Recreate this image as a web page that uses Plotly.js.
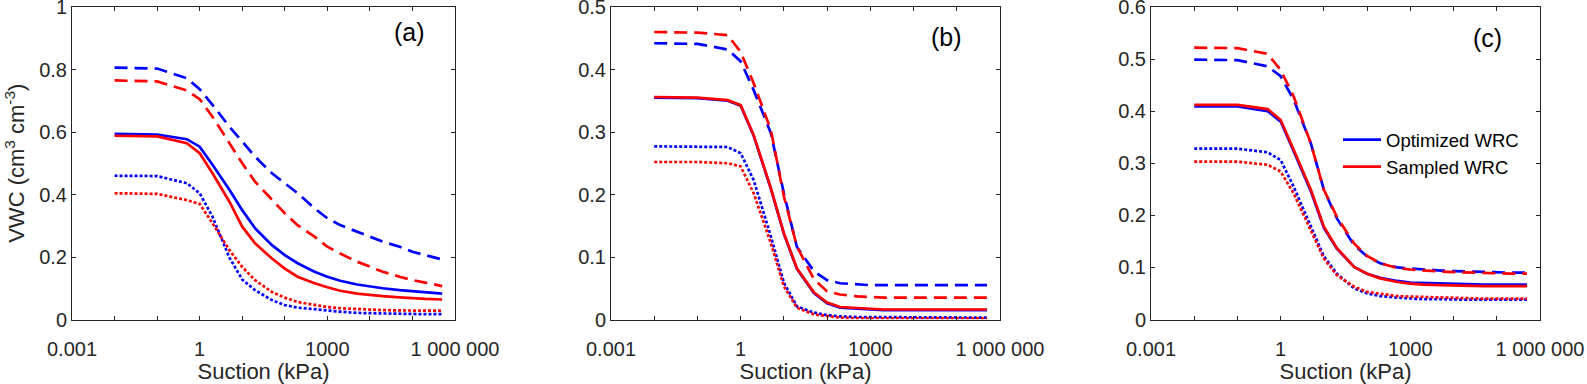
<!DOCTYPE html>
<html>
<head>
<meta charset="utf-8">
<script src="https://cdn.plot.ly/plotly-3.0.1.min.js"></script>
<style>
  html, body { margin: 0; padding: 0; background: #fff; }
  #chart { width: 1587px; height: 384px; }
</style>
</head>
<body>
<div id="chart"></div>
<script>
// suction values (kPa) where the curves are sampled
var suction = [0.01, 0.1, 0.5, 1, 2, 5, 10, 20, 50, 100, 200, 500, 1000, 2000, 5000, 1e4, 2e4, 5e4, 1e5, 2e5, 5e5];

// panel (a)
var optA_dash  = [0.806, 0.803, 0.772, 0.737, 0.687, 0.617, 0.570, 0.521, 0.468, 0.436, 0.404, 0.356, 0.324, 0.302, 0.281, 0.265, 0.249, 0.233, 0.217, 0.206, 0.192];
var optA_solid = [0.594, 0.592, 0.577, 0.553, 0.495, 0.415, 0.350, 0.292, 0.238, 0.206, 0.180, 0.153, 0.137, 0.124, 0.112, 0.105, 0.100, 0.094, 0.091, 0.088, 0.083];
var optA_dot   = [0.460, 0.459, 0.436, 0.404, 0.329, 0.198, 0.128, 0.094, 0.062, 0.046, 0.038, 0.032, 0.028, 0.025, 0.021, 0.020, 0.019, 0.018, 0.018, 0.017, 0.017];
var smpA_dash  = [0.765, 0.762, 0.733, 0.705, 0.649, 0.564, 0.500, 0.441, 0.382, 0.340, 0.302, 0.265, 0.233, 0.211, 0.185, 0.169, 0.153, 0.137, 0.126, 0.118, 0.107];
var smpA_solid = [0.588, 0.586, 0.564, 0.532, 0.468, 0.377, 0.297, 0.244, 0.195, 0.163, 0.137, 0.116, 0.103, 0.092, 0.083, 0.078, 0.075, 0.071, 0.068, 0.066, 0.064];
var smpA_dot   = [0.404, 0.402, 0.382, 0.370, 0.308, 0.222, 0.168, 0.126, 0.088, 0.070, 0.056, 0.046, 0.040, 0.036, 0.033, 0.031, 0.030, 0.029, 0.029, 0.028, 0.028];

// panel (b)
var optB_dash  = [0.442, 0.441, 0.432, 0.413, 0.367, 0.298, 0.202, 0.116, 0.077, 0.063, 0.058, 0.056, 0.055, 0.055, 0.055, 0.055, 0.055, 0.055, 0.055, 0.055, 0.055];
var optB_solid = [0.355, 0.354, 0.350, 0.342, 0.294, 0.209, 0.137, 0.081, 0.042, 0.026, 0.019, 0.017, 0.016, 0.015, 0.015, 0.015, 0.015, 0.015, 0.015, 0.015, 0.015];
var optB_dot   = [0.277, 0.277, 0.276, 0.266, 0.223, 0.133, 0.059, 0.021, 0.011, 0.007, 0.005, 0.004, 0.004, 0.003, 0.003, 0.003, 0.003, 0.003, 0.003, 0.003, 0.003];
var smpB_dash  = [0.460, 0.459, 0.455, 0.428, 0.378, 0.303, 0.197, 0.117, 0.064, 0.045, 0.040, 0.037, 0.036, 0.035, 0.035, 0.035, 0.035, 0.035, 0.035, 0.035, 0.035];
var smpB_solid = [0.356, 0.355, 0.351, 0.343, 0.295, 0.210, 0.138, 0.082, 0.043, 0.027, 0.020, 0.018, 0.017, 0.016, 0.016, 0.016, 0.016, 0.016, 0.016, 0.016, 0.016];
var smpB_dot   = [0.252, 0.252, 0.250, 0.245, 0.202, 0.122, 0.053, 0.019, 0.008, 0.005, 0.003, 0.002, 0.002, 0.002, 0.002, 0.002, 0.002, 0.002, 0.002, 0.002, 0.002];

// panel (c)
var optC_dash  = [0.499, 0.498, 0.486, 0.467, 0.422, 0.338, 0.249, 0.194, 0.143, 0.121, 0.108, 0.100, 0.098, 0.096, 0.094, 0.093, 0.092, 0.091, 0.091, 0.090, 0.090];
var optC_solid = [0.409, 0.409, 0.400, 0.380, 0.323, 0.246, 0.176, 0.136, 0.101, 0.088, 0.080, 0.074, 0.071, 0.070, 0.069, 0.068, 0.068, 0.067, 0.067, 0.067, 0.067];
var optC_dot   = [0.328, 0.328, 0.321, 0.306, 0.255, 0.178, 0.121, 0.088, 0.060, 0.050, 0.045, 0.042, 0.040, 0.039, 0.039, 0.038, 0.038, 0.038, 0.038, 0.038, 0.038];
var smpC_dash  = [0.522, 0.521, 0.510, 0.479, 0.428, 0.338, 0.249, 0.197, 0.146, 0.122, 0.108, 0.099, 0.096, 0.094, 0.092, 0.091, 0.090, 0.089, 0.089, 0.088, 0.088];
var smpC_solid = [0.412, 0.412, 0.404, 0.383, 0.326, 0.249, 0.178, 0.137, 0.101, 0.088, 0.079, 0.072, 0.069, 0.067, 0.066, 0.065, 0.065, 0.064, 0.064, 0.064, 0.064];
var smpC_dot   = [0.303, 0.303, 0.297, 0.284, 0.242, 0.172, 0.117, 0.085, 0.063, 0.053, 0.049, 0.045, 0.044, 0.043, 0.042, 0.041, 0.041, 0.040, 0.040, 0.040, 0.040];

var panelLabels = ['(a)', '(b)', '(c)'];
var yMax = [1, 0.5, 0.6];
var yTicks = [
    [0, 0.2, 0.4, 0.6, 0.8, 1],
    [0, 0.1, 0.2, 0.3, 0.4, 0.5],
    [0, 0.1, 0.2, 0.3, 0.4, 0.5, 0.6]
];
var xTickVals = [0.001, 0.01, 0.1, 1, 10, 100, 1000, 1e4, 1e5, 1e6];
var xTickText = ['0.001', '', '', '1', '', '', '1000', '', '', '1 000 000'];

var BLUE = '#0000ff', RED = '#ff0000';
var DASH = '13px,7px', DOT = '3px,2px';

function line(y, color, dash, axis, name) {
    return {
        x: suction,
        y: y,
        type: 'scatter',
        mode: 'lines',
        xaxis: 'x' + axis,
        yaxis: 'y' + axis,
        name: name || '',
        showlegend: !!name,
        hoverinfo: 'skip',
        line: { color: color, width: 2.7, dash: dash }
    };
}

var data = [
    line(optA_dash, BLUE, DASH, ''), line(optA_solid, BLUE, 'solid', ''), line(optA_dot, BLUE, DOT, ''),
    line(smpA_dash, RED, DASH, ''), line(smpA_solid, RED, 'solid', ''), line(smpA_dot, RED, DOT, ''),
    line(optB_dash, BLUE, DASH, '2'), line(optB_solid, BLUE, 'solid', '2'), line(optB_dot, BLUE, DOT, '2'),
    line(smpB_dash, RED, DASH, '2'), line(smpB_solid, RED, 'solid', '2'), line(smpB_dot, RED, DOT, '2'),
    line(optC_dash, BLUE, DASH, '3'), line(optC_solid, BLUE, 'solid', '3', 'Optimized WRC'), line(optC_dot, BLUE, DOT, '3'),
    line(smpC_dash, RED, DASH, '3'), line(smpC_solid, RED, 'solid', '3', 'Sampled WRC'), line(smpC_dot, RED, DOT, '3')
];

var W = 1587, H = 384;
var xPix = [[72, 455], [611, 1000], [1151, 1540]];
var yDom = [1 - 319.5 / H, 1 - 7 / H];
var FONT = 'Liberation Sans, Arial, sans-serif';
var tickFont = { family: FONT, size: 20, color: '#262626' };
var titleFont = { family: FONT, size: 22, color: '#262626' };
var labelPos = [[0.8825, 0.92], [0.863, 0.905], [0.864, 0.90]];

var layout = {
    width: W,
    height: H,
    margin: { l: 0, r: 0, t: 0, b: 0 },
    paper_bgcolor: '#fff',
    plot_bgcolor: '#fff',
    showlegend: true,
    legend: {
        x: 1338 / W, y: 1 - 121 / H, xanchor: 'left', yanchor: 'top',
        bgcolor: 'rgba(0,0,0,0)',
        itemwidth: 38,
        font: { family: FONT, size: 18.5, color: '#000' },
        tracegroupgap: 0
    },
    annotations: []
};

for (var i = 0; i < 3; i++) {
    var sfx = i === 0 ? '' : String(i + 1);
    layout['xaxis' + sfx] = {
        type: 'log',
        domain: [xPix[i][0] / W, xPix[i][1] / W],
        range: [-3, 6],
        tickmode: 'array',
        tickvals: xTickVals,
        ticktext: xTickText,
        ticks: 'inside',
        ticklen: 4,
        tickcolor: '#262626',
        ticklabelstandoff: 11,
        ticklabeloverflow: 'allow',
        showline: true,
        linecolor: '#262626',
        linewidth: 1,
        mirror: 'ticks',
        showgrid: false,
        zeroline: false,
        tickfont: tickFont,
        anchor: 'y' + sfx,
        title: { text: 'Suction (kPa)', font: titleFont, standoff: 12 },
        automargin: false
    };
    var ya = {
        domain: yDom,
        range: [0, yMax[i]],
        tickmode: 'array',
        tickvals: yTicks[i],
        ticks: 'inside',
        ticklen: 4,
        tickcolor: '#262626',
        ticklabeloverflow: 'allow',
        showline: true,
        linecolor: '#262626',
        linewidth: 1,
        mirror: 'ticks',
        showgrid: false,
        zeroline: false,
        tickfont: tickFont,
        anchor: 'x' + sfx,
        automargin: false
    };
    if (i === 0) {
        ya.title = { text: 'VWC (cm<sup>3</sup> cm<sup>-3</sup>)', font: titleFont, standoff: 8 };
    }
    layout['yaxis' + sfx] = ya;
    layout.annotations.push({
        text: panelLabels[i],
        xref: 'x' + sfx + ' domain', yref: 'y' + sfx + ' domain',
        x: labelPos[i][0], y: labelPos[i][1],
        xanchor: 'center', yanchor: 'middle',
        showarrow: false,
        font: { family: FONT, size: 25, color: '#000' }
    });
}

Plotly.newPlot('chart', data, layout, { staticPlot: true, displayModeBar: false });
</script>
</body>
</html>
